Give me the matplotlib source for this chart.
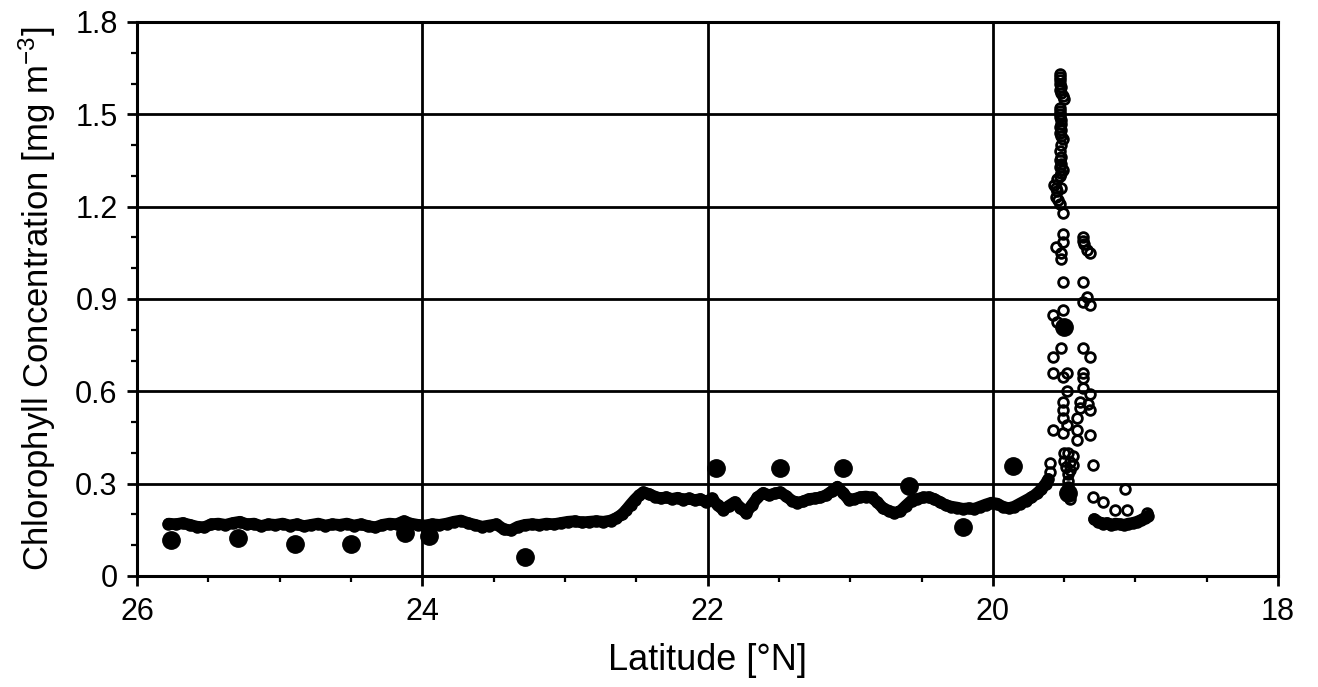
import matplotlib
matplotlib.use("Agg")
import matplotlib.pyplot as plt
from matplotlib.ticker import MultipleLocator

plt.rcParams['font.family'] = ['Liberation Sans', 'DejaVu Sans']
plt.rcParams['mathtext.default'] = 'regular'

# Continuous underway track (open circles), latitude [°N] / chlorophyll [mg m-3]
# 1) background band north of the front
band_lat = [
    25.78, 25.73, 25.68, 25.63, 25.58, 25.53, 25.48, 25.43, 25.38, 25.33,
    25.28, 25.23, 25.18, 25.13, 25.08, 25.03, 24.98, 24.93, 24.88, 24.83,
    24.78, 24.73, 24.68, 24.63, 24.58, 24.53, 24.48, 24.43, 24.38, 24.33,
    24.28, 24.23, 24.18, 24.13, 24.08, 24.03, 23.98, 23.93, 23.88, 23.83,
    23.78, 23.73, 23.68, 23.63, 23.58, 23.53, 23.48, 23.43, 23.38, 23.33,
    23.28, 23.23, 23.18, 23.13, 23.08, 23.03, 22.98, 22.93, 22.88, 22.83,
    22.78, 22.73, 22.68, 22.64, 22.60, 22.57, 22.54, 22.51, 22.48, 22.45,
    22.41, 22.37, 22.33, 22.29, 22.25, 22.21, 22.17, 22.13, 22.09, 22.05,
    22.01, 21.97, 21.93, 21.89, 21.85, 21.81, 21.77, 21.73, 21.69, 21.65,
    21.61, 21.57, 21.53, 21.49, 21.45, 21.41, 21.37, 21.33, 21.29, 21.25,
    21.21, 21.17, 21.13, 21.09, 21.05, 21.01, 20.97, 20.93, 20.89, 20.85,
    20.81, 20.77, 20.73, 20.69, 20.65, 20.61, 20.57, 20.53, 20.49, 20.45,
    20.41, 20.37, 20.33, 20.29, 20.25, 20.21, 20.17, 20.13, 20.09, 20.05,
    20.01, 19.97, 19.93, 19.89, 19.85, 19.81, 19.77, 19.73, 19.69, 19.66,
    19.63, 19.61,
]
band_chl = [
    0.170, 0.168, 0.172, 0.166, 0.160, 0.158, 0.168, 0.170, 0.166, 0.172,
    0.176, 0.168, 0.170, 0.162, 0.168, 0.166, 0.170, 0.164, 0.168, 0.162,
    0.166, 0.170, 0.164, 0.168, 0.166, 0.170, 0.164, 0.168, 0.162, 0.158,
    0.166, 0.170, 0.168, 0.178, 0.170, 0.166, 0.164, 0.168, 0.166, 0.170,
    0.176, 0.180, 0.172, 0.166, 0.160, 0.164, 0.168, 0.152, 0.148, 0.160,
    0.166, 0.168, 0.166, 0.170, 0.168, 0.172, 0.176, 0.178, 0.174, 0.176,
    0.178, 0.176, 0.180, 0.188, 0.200, 0.215, 0.232, 0.248, 0.262, 0.272,
    0.266, 0.258, 0.252, 0.256, 0.250, 0.254, 0.248, 0.252, 0.246, 0.250,
    0.240, 0.252, 0.230, 0.215, 0.228, 0.240, 0.222, 0.205, 0.230, 0.255,
    0.270, 0.262, 0.268, 0.272, 0.260, 0.245, 0.238, 0.242, 0.250, 0.252,
    0.255, 0.262, 0.275, 0.290, 0.270, 0.248, 0.250, 0.256, 0.258, 0.255,
    0.240, 0.220, 0.212, 0.205, 0.210, 0.228, 0.245, 0.250, 0.255, 0.256,
    0.250, 0.240, 0.230, 0.225, 0.222, 0.218, 0.220, 0.218, 0.225, 0.232,
    0.238, 0.235, 0.225, 0.220, 0.225, 0.235, 0.245, 0.255, 0.268, 0.282,
    0.300, 0.315,
]

# 2) the two chlorophyll spikes at the front
spike_lat = [
    19.53, 19.53, 19.53, 19.53, 19.52, 19.53, 19.52, 19.51, 19.50,
    19.53, 19.53, 19.53, 19.53, 19.52, 19.52, 19.53, 19.52, 19.53, 19.52,
    19.51, 19.52, 19.53, 19.52, 19.53, 19.52, 19.53, 19.51, 19.52, 19.53,
    19.55, 19.57, 19.56, 19.55, 19.56, 19.54, 19.53, 19.52, 19.51,
    19.51, 19.51, 19.56, 19.52, 19.52, 19.51,
    19.58, 19.51, 19.55,
    19.52, 19.58, 19.58, 19.51, 19.48,
    19.48, 19.51, 19.51, 19.51, 19.48, 19.58, 19.51,
    19.50, 19.47, 19.44, 19.50, 19.46, 19.44, 19.49, 19.46,
    19.60, 19.60,
    19.47, 19.47, 19.47, 19.47, 19.46,
    19.37, 19.37, 19.36, 19.34, 19.32,
    19.37, 19.34, 19.32, 19.37,
    19.37, 19.32, 19.37, 19.37, 19.37, 19.32,
    19.39, 19.33, 19.39, 19.32, 19.41, 19.41, 19.32, 19.41, 19.30,
    19.07, 19.30, 19.23, 19.14, 19.06, 18.92,
]
spike_chl = [
    1.63, 1.62, 1.61, 1.60, 1.59, 1.58, 1.57, 1.56, 1.55,
    1.52, 1.51, 1.50, 1.49, 1.48, 1.47, 1.46, 1.45, 1.44, 1.43,
    1.42, 1.40, 1.38, 1.36, 1.35, 1.34, 1.33, 1.32, 1.31, 1.30,
    1.29, 1.27, 1.26, 1.25, 1.23, 1.22, 1.21, 1.26, 1.18,
    1.11, 1.085, 1.07, 1.05, 1.03, 0.955,
    0.848, 0.864, 0.825,
    0.74, 0.71, 0.66, 0.647, 0.66,
    0.60, 0.565, 0.54, 0.513, 0.49, 0.474, 0.465,
    0.40, 0.40, 0.39, 0.375, 0.37, 0.36, 0.355, 0.345,
    0.367, 0.338,
    0.33, 0.31, 0.29, 0.27, 0.25,
    1.10, 1.09, 1.08, 1.06, 1.05,
    0.955, 0.906, 0.88, 0.89,
    0.74, 0.71, 0.66, 0.643, 0.61, 0.59,
    0.565, 0.56, 0.545, 0.54, 0.513, 0.474, 0.458, 0.442, 0.36,
    0.283, 0.257, 0.24, 0.214, 0.214, 0.205,
]

# 3) low-chlorophyll band south of the front
tail_lat = [19.29, 19.26, 19.23, 19.20, 19.17, 19.14, 19.11, 19.08, 19.05,
            19.02, 18.99, 18.96, 18.93, 18.91]
tail_chl = [0.185, 0.176, 0.170, 0.172, 0.166, 0.170, 0.168, 0.166, 0.170,
            0.172, 0.176, 0.182, 0.190, 0.196]

# Discrete samples (filled circles)
sample_lat = [25.76, 25.29, 24.89, 24.50, 24.12, 23.95, 23.28, 21.94, 21.49,
              21.05, 20.59, 20.21, 19.86, 19.50, 19.47]
sample_chl = [0.117, 0.123, 0.104, 0.104, 0.140, 0.130, 0.062, 0.350, 0.350,
              0.350, 0.292, 0.160, 0.357, 0.810, 0.270]

x_ticks = [26, 24, 22, 20, 18]
y_ticks = [0, 0.3, 0.6, 0.9, 1.2, 1.5, 1.8]
y_tick_labels = ['0', '0.3', '0.6', '0.9', '1.2', '1.5', '1.8']

fig = plt.figure(figsize=(13.18, 6.87), dpi=100)
ax = fig.add_axes([0.104, 0.1616, 0.8657, 0.8064])

open_style = dict(linestyle='none', marker='o', ms=7.0, mfc='none',
                  mec='black', mew=2.0, zorder=3)
# dense track rendered as a solid band under its markers
ax.plot(band_lat, band_chl, color='black', lw=8.5, solid_capstyle='round',
        solid_joinstyle='round', zorder=3)
ax.plot(tail_lat, tail_chl, color='black', lw=8.5, solid_capstyle='round',
        solid_joinstyle='round', zorder=3)
ax.plot(band_lat, band_chl, **open_style)
ax.plot(tail_lat, tail_chl, **open_style)
ax.plot(spike_lat, spike_chl, **open_style)
ax.plot(sample_lat, sample_chl, linestyle='none', marker='o', ms=12.5,
        mfc='black', mec='black', zorder=4)

ax.set_xlim(26, 18)
ax.set_ylim(0, 1.8)
ax.set_xticks(x_ticks)
ax.set_xticklabels([str(v) for v in x_ticks])
ax.set_yticks(y_ticks)
ax.set_yticklabels(y_tick_labels)
ax.xaxis.set_minor_locator(MultipleLocator(0.5))
ax.yaxis.set_minor_locator(MultipleLocator(0.1))

ax.grid(True, which='major', color='black', linewidth=2.0)
ax.set_axisbelow(True)
for sp in ax.spines.values():
    sp.set_linewidth(2.2)
    sp.set_color('black')

ax.tick_params(axis='both', which='major', direction='out', length=7,
               width=2.0, labelsize=22, color='black')
ax.tick_params(axis='both', which='minor', direction='out', length=4.5,
               width=1.6, color='black')
ax.tick_params(axis='x', which='major', pad=8)
ax.tick_params(axis='y', which='major', pad=7)

ax.set_xlabel('Latitude [°N]', fontsize=26, labelpad=12)
ax.set_ylabel('Chlorophyll Concentration [mg m$^{\\mathregular{-3}}$]',
              fontsize=25, labelpad=12)

fig.savefig('out.png', dpi=100)
